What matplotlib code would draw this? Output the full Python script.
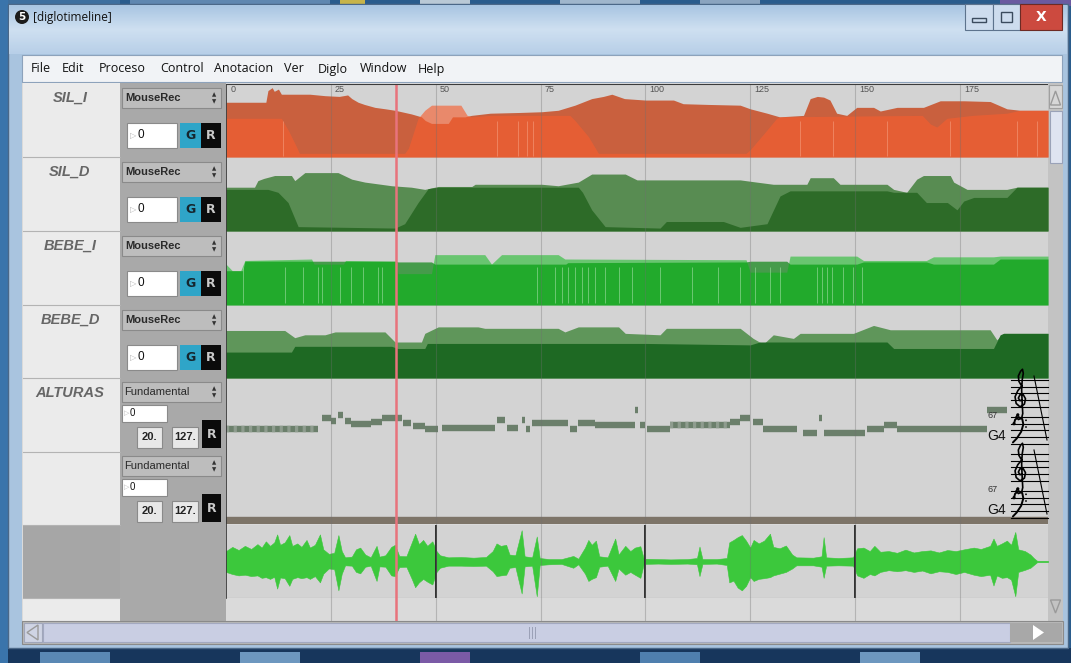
import numpy as np
import matplotlib
matplotlib.use("Agg")
import matplotlib.pyplot as plt
from matplotlib.patches import Rectangle, Circle, Polygon
from matplotlib.colors import LinearSegmentedColormap

W, H = 1071, 663

# ---- timeline data (x in ruler units, y as fraction of the track height) ----
TIMELINE_MAX = 196
RULER_TICKS = [0, 25, 50, 75, 100, 125, 150, 175]
CURSOR_POS = 40.5
AUDIO_MARKERS = [50, 100, 150]

MENU_ITEMS = ["File", "Edit", "Proceso", "Control", "Anotacion", "Ver", "Diglo", "Window", "Help"]
TRACK_NAMES = ["SIL_I", "SIL_D", "BEBE_I", "BEBE_D", "ALTURAS"]

SIL_I_BACK = [(0, .75), (9.5, .75), (10, .91), (11, .95), (11.5, .9), (12.5, .93), (13.2, .86),
              (20, .86), (23.6, .84), (27, .83), (29, .85), (30, .8), (31.5, .75), (33, .72),
              (35.5, .68), (38, .66), (40.3, .64), (44.2, .59), (46.6, .55), (47.5, .5), (49, .46),
              (53, .46), (54, .55), (57, .55), (58.5, .57), (63, .6), (70, .61), (75.3, .62),
              (79.2, .64), (83.2, .71), (87.2, .8), (90, .83), (92, .86), (95, .8), (100, .78),
              (106.7, .78), (109, .73), (115, .72), (122.6, .71), (125, .66), (129, .6), (132, .55),
              (137.7, .57), (139.3, .8), (141, .83), (142.5, .82), (144, .78), (145.6, .6), (148, .57),
              (150.4, .68), (154.4, .68), (156, .63), (160, .68), (166.3, .68), (170.3, .77),
              (176, .77), (182.2, .76), (186.2, .66), (189.4, .64), (196, .64)]
SIL_I_FRONT = [(0, .53), (13.2, .53), (15, .35), (16.8, .14), (17.5, .05), (42.6, .05), (43.5, .12),
               (45.8, .53), (47.4, .64), (49, .71), (56, .71), (57.5, .57), (58.5, .55), (63, .57),
               (82, .57), (83.2, .5), (86.4, .28), (88.8, .05), (124, .05), (125, .1), (129, .37),
               (131.3, .53), (132, .55), (166, .57), (168, .45), (169.5, .41), (171.9, .53),
               (175, .55), (178, .57), (186.2, .6), (189.4, .64), (196, .64)]
SIL_I_STREAKS = [13.6, 64.5, 69.7, 71.7, 73.3, 136.9, 144.8, 157.6, 172.7, 188.6, 193.4]

SIL_D_BACK = [(0, .6), (6.8, .6), (7.6, .69), (9, .72), (11.6, .76), (15.6, .76), (16.4, .69),
              (18.8, .8), (26.7, .8), (30, .71), (33.1, .67), (39.5, .62), (44.2, .6), (47.4, .57),
              (50.6, .61), (58.6, .61), (59.4, .64), (75.3, .64), (79.2, .62), (84, .67), (87.2, .78),
              (95.2, .78), (98, .7), (122.6, .7), (126.5, .67), (130.5, .64), (138.5, .64),
              (139.3, .73), (144.8, .73), (146.4, .64), (157.6, .64), (159.2, .57), (162.3, .53),
              (164.7, .71), (166.3, .76), (172.7, .76), (173.5, .67), (176.7, .57), (186.2, .57),
              (188.6, .6), (196, .6)]
SIL_D_FRONT = [(0, .57), (10, .57), (12.4, .53), (14.8, .39), (17.2, .06), (40.3, .04), (42.6, .1),
               (45.8, .39), (48.2, .58), (50.6, .6), (84, .6), (85, .53), (87.2, .29), (90.4, .06),
               (103.5, .04), (105, .13), (118.6, .13), (122.6, .05), (129, .1), (132.1, .48),
               (134.5, .55), (157.6, .55), (159.2, .53), (164.7, .53), (167, .39), (172, .39),
               (174.3, .29), (175.9, .41), (178.3, .46), (186.2, .46), (188.6, .6), (196, .6)]

BEBE_I_BACK = [(0, .47), (4, .47), (4.5, .6), (40.5, .6), (41, .59), (49, .59), (49.8, .56),
               (81, .56), (81.5, .58), (124, .59), (125, .6), (133.7, .6), (134.5, .56),
               (150.4, .56), (152, .59), (167, .59), (168.7, .56), (183, .56), (184.6, .63), (196, .63)]
BEBE_I_FRONT = [(0, .56), (1.5, .47), (3.5, .47), (4.5, .61), (20.4, .63), (21, .56), (28, .56),
                (28.5, .61), (40.5, .6), (41, .43), (49, .43), (49.8, .69), (61.7, .69), (63.3, .56),
                (65.7, .69), (79.2, .69), (80.8, .63), (124, .62), (125, .45), (133.7, .45),
                (134.5, .67), (150.4, .67), (152, .61), (167, .61), (168.7, .66), (183, .66),
                (184.6, .67), (196, .67)]
BEBE_I_STREAKS = [4.1, 14, 18.4, 22, 22.8, 27.1, 29.9, 32.7, 36.3, 37.1, 74.1, 78.5, 80, 81.6,
                  83.2, 84.8, 86.4, 88, 90.4, 93.6, 96.8, 103.5, 111, 117.4, 122.6, 126.1, 129.7,
                  132.1, 140.9, 142.1, 143.3, 144.5, 147.2, 149.6, 151.6]

BEBE_D_BACK = [(0, .66), (14, .66), (16.4, .56), (18.8, .6), (23.6, .6), (26, .64), (37.9, .64),
               (40.3, .5), (46.6, .5), (47.4, .62), (50.6, .71), (60.1, .71), (61.7, .69), (79.2, .69),
               (80.8, .64), (84, .71), (93.6, .71), (95.2, .62), (103.5, .6), (105, .69), (122.6, .69),
               (125.7, .55), (128.1, .47), (130.5, .6), (135.3, .55), (136.9, .62), (149.6, .62),
               (154.4, .73), (158.4, .67), (182.2, .67), (183.8, .53), (185.4, .62), (196, .62)]
BEBE_D_FRONT = [(0, .36), (15.6, .36), (16.4, .44), (39.5, .44), (41, .41), (47.4, .41), (48, .48),
                (100, .48), (125, .46), (127.3, .5), (157.6, .5), (159.2, .41), (183, .41),
                (184.6, .6), (185.4, .62), (196, .62)]

# pitch trace: (start, end, level)
PITCH = [(0, 22, .315), (22.8, 25.1, .47), (25.1, 26.3, .42), (26.7, 28, .51), (28.3, 29.9, .42),
         (29.9, 34.5, .38), (34.5, 37.1, .41), (37.1, 41.9, .47), (42.2, 44.2, .4), (44.6, 47.4, .36),
         (47.4, 50.6, .32), (51.4, 64.1, .33), (64.5, 66.5, .44), (66.9, 69.7, .33), (70.5, 71.3, .44),
         (71.5, 72.5, .32), (72.9, 81.6, .4), (82, 83.6, .32), (84, 88, .4), (88, 97.5, .37),
         (97.5, 98.3, .57), (98.7, 99.9, .37), (100.3, 105.9, .32), (105.9, 120.2, .37),
         (120.2, 122.6, .41), (122.6, 125, .47), (125.7, 128.1, .41), (128.1, 136.1, .32),
         (137.7, 140.9, .26), (141.3, 142, .47), (142.5, 152.4, .26), (152.8, 156.8, .32),
         (156.8, 160, .37), (160, 181.4, .32), (181.4, 186.2, .57)]
PITCH_NOISY = [(0, 22, .315), (105.9, 120.2, .37)]

# audio envelope
AUDIO_POS = [0, 1.5, 3, 4.5, 6, 7.5, 8.5, 9.5, 10.5, 11.5, 12.2, 12.9, 14, 15.1, 15.8, 17, 18, 19.2,
             20, 21.2, 22.4, 23.2, 24.5, 25.8, 26.8, 27.6, 28.4, 30, 31, 32, 33.2, 34.5, 35.9, 36.6,
             38, 39.4, 40.3, 41.3, 43, 44.3, 45.1, 46, 47, 48, 49.2, 50.2, 51, 53, 56, 59, 62, 63.6,
             64.5, 65.5, 66.8, 67.6, 69, 70.5, 71.2, 73, 74.1, 74.8, 77, 80, 82.8, 84, 85.6, 86.4,
             87.2, 88.2, 89, 91, 92.8, 93.6, 95.2, 96.4, 97.5, 98.8, 99.6, 103, 106, 110, 112.3,
             112.9, 113.6, 117, 119.4, 120, 121, 122, 123, 124, 125, 125.8, 127, 128.3, 129.7, 130.5,
             132, 133.5, 135, 136, 140, 142, 142.5, 143.1, 146, 149.5, 150.5, 152, 153.5, 154.6, 156,
             158, 160, 162, 164, 166, 168, 170, 172, 174, 176, 178.3, 180, 182.2, 183, 183.8, 185,
             186.2, 187.2, 188.2, 188.9, 190.5, 191.8, 192.6, 193.4, 196]
AUDIO_TOP = [.30, .42, .33, .45, .36, .50, .40, .58, .45, .55, .78, .48, .55, .76, .45, .52, .42, .62,
             .40, .48, .78, .35, .22, .25, .76, .30, .12, .14, .35, .40, .20, .12, .45, .14,
             .18, .42, .48, .16, .15, .55, .80, .50, .62, .45, .58, .30, .18, .12, .13, .11, .13, .30,
             .52, .45, .48, .20, .18, .90, .15, .12, .72, .10, .07, .07, .16, .08, .40, .62,
             .48, .60, .15, .12, .66, .20, .45, .30, .40, .44, .08, .07, .06, .07, .10,
             .43, .07, .07, .10, .55, .62, .70, .76, .60, .40, .62, .52, .60, .80, .42,
             .38, .46, .20, .12, .11, .15, .70, .12, .10, .12, .38, .40, .30, .45, .28,
             .30, .25, .34, .26, .30, .32, .26, .33, .30, .35, .40, .36, .45, .66, .45, .52,
             .60, .48, .85, .35, .30, .20, .10, .02, .02]
AUDIO_BOT = [.30, .36, .40, .38, .42, .40, .47, .45, .50, .44, .78, .46, .48, .70, .50, .45, .48, .45,
             .50, .42, .60, .35, .20, .22, .83, .35, .11, .12, .30, .34, .15, .12, .56, .14,
             .15, .40, .42, .16, .15, .50, .74, .60, .50, .58, .66, .30, .18, .12, .12, .13, .12, .28,
             .42, .40, .38, .18, .16, .92, .14, .12, 1.0, .10, .08, .07, .18, .08, .35, .56,
             .50, .45, .15, .12, .56, .20, .38, .30, .38, .47, .07, .06, .07, .06, .08,
             .42, .07, .06, .10, .60, .55, .75, .83, .70, .45, .56, .50, .48, .45, .40,
             .35, .30, .20, .11, .11, .15, .47, .12, .11, .12, .40, .47, .36, .40, .30,
             .25, .28, .25, .30, .26, .34, .28, .30, .36, .30, .38, .42, .38, .69, .40, .47,
             .45, .52, 1.0, .30, .24, .18, .10, .02, .02]

# ---- colours ----
TRACK_BG = "#d3d3d3"
ORANGE_BACK, ORANGE_FRONT = "#c9603e", "#f65e2f"
GREEN_D_BACK, GREEN_D_FRONT = "#588c52", "#2d6b28"
GREEN_I_BACK, GREEN_I_FRONT = "#469b4b", "#00b90f"
GREEN_BD_BACK, GREEN_BD_FRONT = "#5f965a", "#1e6923"
PITCH_COLOR = "#6b7f6b"
WAVE_COLOR = "#3cc83c"
UI = ["Liberation Sans Narrow", "Liberation Sans", "DejaVu Sans"]
MENU_FONT = ["Open Sans", "DejaVu Sans"]

fig = plt.figure(figsize=(W / 100, H / 100), dpi=100)
fig.patch.set_facecolor("#2a5c8c")

bg = fig.add_axes([0, 0, 1, 1])
bg.axis("off")


def box(ax, x0, y0, x1, y1, fc, ec="none", lw=0.8, z=2):
    ax.add_patch(Rectangle((x0, y0), x1 - x0, y1 - y0, fc=fc, ec=ec, lw=lw, zorder=z))


def px_axes(x0, y0, x1, y1):
    return fig.add_axes([x0 / W, 1 - y1 / H, (x1 - x0) / W, (y1 - y0) / H])


# desktop blur strips
for x0, x1, c in [(0, 120, "#3d6f9f"), (130, 330, "#5f87b0"), (340, 365, "#c7b44a"),
                  (420, 470, "#b9c9d6"), (560, 640, "#9fb6cc"), (700, 760, "#8aa4bf"),
                  (1000, 1071, "#6b5aa0")]:
    box(bg, x0, 0, x1, 6, c, z=1)
box(bg, 0, 648, W, H, "#17365c", z=1)
for x0, x1, c in [(40, 110, "#5a88b4"), (240, 300, "#6d97bf"), (420, 470, "#7a5aa6"),
                  (640, 700, "#4f7fae"), (860, 920, "#6d97bf")]:
    box(bg, x0, 652, x1, H, c, z=1)
box(bg, 0, 0, 8, H, "#3a74ab", z=1)

# window frame + glass title bar
box(bg, 8, 4, 1068, 648, "#a9c4df", ec="#4b6888", lw=1, z=2)
glass = LinearSegmentedColormap.from_list("glass", ["#a8c5e2", "#cfe0f1", "#b7cfe8"])
bg.imshow(np.linspace(0, 1, 64).reshape(-1, 1), cmap=glass, aspect="auto",
          extent=[9, 1067, 54, 5], zorder=3)
bg.add_patch(Circle((22, 17), 7, fc="#1c1c1c", zorder=4))
bg.text(22, 17.5, "5", color="white", fontsize=7.5, fontweight="bold", ha="center", va="center", zorder=5)
bg.text(33, 17, "[diglotimeline]", color="#111111", fontsize=8.5, va="center",
        family=MENU_FONT, zorder=5)

# caption buttons
box(bg, 965, 4, 993, 30, "#cddcee", ec="#5d738d", z=4)
box(bg, 993, 4, 1020, 30, "#cddcee", ec="#5d738d", z=4)
box(bg, 1020, 4, 1062, 30, "#cc4a3f", ec="#6d2a24", z=4)
box(bg, 972, 18, 986, 22, "none", ec="#3b4b5e", lw=1, z=5)
box(bg, 1001, 12, 1012, 22, "none", ec="#3b4b5e", lw=1, z=5)
bg.text(1041, 17, "X", color="white", fontsize=10, fontweight="bold", ha="center", va="center", zorder=5)

# menu bar
box(bg, 22, 55, 1062, 82, "#f1f3f6", ec="#8da2bb", z=4)
for label, x in zip(MENU_ITEMS, [31, 62, 99, 160, 214, 284, 318, 360, 418]):
    bg.text(x, 69, label, fontsize=9, va="center", color="#111111", family=MENU_FONT, zorder=5)

# main content background
box(bg, 22, 83, 1063, 621, "#dadada", z=3)

# label column
box(bg, 23, 83, 120, 621, "#ebebeb", z=4)
box(bg, 23, 525, 120, 598, "#a6a6a6", z=4)
for y in [157, 231, 305, 378, 452, 525, 598]:
    bg.plot([23, 120], [y, y], color="#b3b3b3", lw=0.8, zorder=5)
for name, y in zip(TRACK_NAMES, [98, 172, 246, 320, 393]):
    bg.text(70, y, name, fontsize=10.5, style="italic", fontweight="bold", color="#666666",
            ha="center", va="center", family=UI, zorder=6)

# control column
box(bg, 120, 83, 226, 621, "#a9a9a9", z=4)


def mouse_widget(t):
    box(bg, 122, t + 5, 221, t + 25, "#bdbdbd", ec="#8a8a8a", z=5)
    bg.text(125, t + 15, "MouseRec", fontsize=8, fontweight="bold", color="#2a2a2a",
            va="center", family=UI, zorder=6)
    bg.text(214, t + 12, "\u25b2", fontsize=4, color="#333333", ha="center", va="center", zorder=6)
    bg.text(214, t + 18.5, "\u25bc", fontsize=4, color="#333333", ha="center", va="center", zorder=6)
    box(bg, 127, t + 40, 177, t + 65, "white", ec="#8a8a8a", z=5)
    bg.text(130, t + 52.5, "\u25b7", fontsize=6, color="#b5b5b5", va="center", zorder=6)
    bg.text(137, t + 52.5, "0", fontsize=8.5, color="#111111", va="center", family=UI, zorder=6)
    box(bg, 180, t + 40, 201, t + 65, "#2fa5c8", z=5)
    bg.text(190.5, t + 52.5, "G", fontsize=9, fontweight="bold", color="#16262e",
            ha="center", va="center", zorder=6)
    box(bg, 201, t + 40, 221, t + 65, "#0b0b0b", z=5)
    bg.text(211, t + 52.5, "R", fontsize=9, fontweight="bold", color="#c9c9c9",
            ha="center", va="center", zorder=6)


def fund_widget(t):
    box(bg, 122, t + 4, 221, t + 24, "#bdbdbd", ec="#8a8a8a", z=5)
    bg.text(124, t + 14, "Fundamental", fontsize=8, color="#2a2a2a", va="center", family=UI, zorder=6)
    bg.text(214, t + 11, "\u25b2", fontsize=4, color="#333333", ha="center", va="center", zorder=6)
    bg.text(214, t + 17.5, "\u25bc", fontsize=4, color="#333333", ha="center", va="center", zorder=6)
    box(bg, 122, t + 27, 167, t + 44, "white", ec="#8a8a8a", z=5)
    bg.text(124, t + 35.5, "\u25b7", fontsize=5, color="#b5b5b5", va="center", zorder=6)
    bg.text(130, t + 35.5, "0", fontsize=7, color="#111111", va="center", family=UI, zorder=6)
    box(bg, 137, t + 49, 162, t + 70, "#e8e8e8", ec="#8a8a8a", z=5)
    bg.text(149.5, t + 59.5, "20.", fontsize=8, fontweight="bold", color="#222222",
            ha="center", va="center", family=UI, zorder=6)
    box(bg, 172, t + 49, 198, t + 70, "#e8e8e8", ec="#8a8a8a", z=5)
    bg.text(185, t + 59.5, "127.", fontsize=8, fontweight="bold", color="#222222",
            ha="center", va="center", family=UI, zorder=6)
    box(bg, 202, t + 42, 221, t + 70, "#0b0b0b", z=5)
    bg.text(211.5, t + 56, "R", fontsize=9, fontweight="bold", color="#c9c9c9",
            ha="center", va="center", zorder=6)


for t in [83, 157, 231, 305]:
    mouse_widget(t)
for t in [378, 452]:
    fund_widget(t)

# scrollbars
box(bg, 1048, 83, 1063, 621, "#c3c3c3", z=4)
box(bg, 1049, 85, 1062, 108, "#d7d7d7", ec="#a0a0a0", z=5)
bg.add_patch(Polygon([[1050.5, 105], [1060.5, 105], [1055.5, 91]], fc="none", ec="#9a9a9a", lw=1, zorder=6))
box(bg, 1050, 111, 1062, 163, "#dfe4f1", ec="#9aa2b8", z=5)
bg.add_patch(Polygon([[1050.5, 600], [1060.5, 600], [1055.5, 613]], fc="none", ec="#9a9a9a", lw=1, zorder=6))
box(bg, 22, 621, 1063, 644, "#b9b9b9", ec="#8a8a8a", z=4)
box(bg, 24, 623, 42, 642, "#cfd4e4", ec="#a0a6ba", z=5)
bg.add_patch(Polygon([[38, 625], [38, 640], [27, 632.5]], fc="none", ec="#9a9a9a", lw=1, zorder=6))
box(bg, 43, 623, 1010, 642, "#c9cee3", ec="#a3a9c0", z=5)
for dx in [-3, 0, 3]:
    bg.plot([532 + dx, 532 + dx], [627, 638], color="#9aa0b6", lw=0.7, zorder=6)
box(bg, 1010, 623, 1062, 642, "#a8a8a8", z=5)
bg.add_patch(Polygon([[1033, 625], [1033, 640], [1044, 632.5]], fc="white", ec="none", zorder=6))

bg.set_xlim(0, W)
bg.set_ylim(H, 0)

# ---- tracks ----
ROWS = [(84, 157), (158, 231), (232, 305), (306, 378), (379, 452), (452, 524), (525, 598)]
axes = []
for y0, y1 in ROWS:
    ax = px_axes(226, y0, 1048, y1)
    ax.set_facecolor(TRACK_BG)
    ax.set_xlim(0, TIMELINE_MAX)
    ax.set_ylim(0, 1)
    ax.set_xticks([])
    ax.set_yticks([])
    for s in ax.spines.values():
        s.set_visible(False)
    axes.append(ax)


def two_layer(ax, back, front, c_back, c_front, a_front):
    bx, by = zip(*back)
    fx, fy = zip(*front)
    ax.fill_between(bx, 0, by, color=c_back, lw=0, zorder=2)
    ax.fill_between(fx, 0, fy, color=c_front, alpha=a_front, lw=0, zorder=3)


two_layer(axes[0], SIL_I_BACK, SIL_I_FRONT, ORANGE_BACK, ORANGE_FRONT, 0.63)
axes[0].vlines(SIL_I_STREAKS, 0.02, 0.5, color="#f7a789", lw=0.6, alpha=0.6, zorder=4)
for t in RULER_TICKS:
    axes[0].text(t + 1.0, 0.985, str(t), fontsize=6.5, color="#555555", va="top",
                 family=UI, zorder=6)
two_layer(axes[1], SIL_D_BACK, SIL_D_FRONT, GREEN_D_BACK, GREEN_D_FRONT, 1.0)
two_layer(axes[2], BEBE_I_BACK, BEBE_I_FRONT, GREEN_I_BACK, GREEN_I_FRONT, 0.5)
axes[2].vlines(BEBE_I_STREAKS, 0.03, 0.52, color="#8fd692", lw=0.6, alpha=0.8, zorder=4)
two_layer(axes[3], BEBE_D_BACK, BEBE_D_FRONT, GREEN_BD_BACK, GREEN_BD_FRONT, 1.0)

# pitch trace
p0, p1, pv = zip(*PITCH)
axes[4].hlines(pv, p0, p1, color=PITCH_COLOR, lw=4.6, zorder=3)
n0, n1, nv = zip(*PITCH_NOISY)
axes[4].hlines(nv, n0, n1, color="#8e9c8e", lw=4.6, linestyles=(0, (0.5, 0.7)), zorder=4)

# second fundamental row: bar at the bottom
axes[5].axhspan(0, 0.1, color="#7d7468", zorder=3)

# audio waveform
aud = axes[6]
aud.set_ylim(-1.05, 1.05)
aud.fill_between(AUDIO_POS, [-v for v in AUDIO_BOT], AUDIO_TOP, color=WAVE_COLOR, lw=0.4,
                 ec=WAVE_COLOR, zorder=3)
aud.vlines(AUDIO_MARKERS, -1.05, 1.05, color="#2e2e2e", lw=1.4, zorder=4)
aud.axhline(-1.04, color="#9a9a9a", lw=0.8, zorder=4)

# timeline overlay: grid and cursor
ov = px_axes(226, 84, 1048, 621)
ov.patch.set_alpha(0)
ov.set_xlim(0, TIMELINE_MAX)
ov.set_ylim(0, 1)
ov.axis("off")
ov.vlines(RULER_TICKS[1:], 0, 1, color="#6f6f6f", lw=0.8, alpha=0.35)
ov.axvline(CURSOR_POS, color="#e8737c", lw=1.8)
ov.plot([0, 0], [0.043, 1], color="#333333", lw=1.2)
ov.plot([0, 1], [1, 1], color="#3a3a3a", lw=1.5, transform=ov.transAxes)

# notation on the right edge of the pitch rows
top = fig.add_axes([0, 0, 1, 1])
top.patch.set_alpha(0)
top.axis("off")

# no installed font has the clef glyphs, so they are sketched as strokes
# (x in staff spaces from the clef centre, y in staff spaces above the bottom line)
TREBLE_STROKE = [(-0.4, -1.2), (-0.7, -1.5), (-0.3, -1.9), (0.3, -1.7), (0.5, -1.0), (0.4, 0.5),
                 (0.3, 2.5), (0.4, 4.0), (0.6, 5.0), (0.45, 5.6), (0.1, 5.3), (-0.3, 4.6),
                 (-0.2, 3.8), (0.3, 3.1), (-0.4, 2.4), (-0.9, 1.5), (-0.7, 0.5), (0.0, 0.0),
                 (0.8, 0.4), (1.0, 1.2), (0.6, 1.8), (0.0, 1.8), (-0.3, 1.3), (0.0, 0.9), (0.3, 1.0)]
BASS_STROKE = [(0.0, 3.0), (0.2, 3.6), (0.8, 4.0), (1.5, 3.7), (1.7, 2.9), (1.3, 1.8),
               (0.5, 0.8), (-0.2, 0.2)]
SP = 6.7


def draw_stroke(points, cx, y_bottom, lw):
    xs = [cx + px * 5.5 for px, _ in points]
    ys = [y_bottom - py * SP for _, py in points]
    top.plot(xs, ys, color="black", lw=lw, solid_capstyle="round", solid_joinstyle="round")
    top.add_patch(Circle((xs[0], ys[0]), 1.6, fc="black", ec="none"))


for base in [378, 452]:
    treble_lines = [base + 2 + i * SP for i in range(5)]
    bass_lines = [base + 39 + i * SP for i in range(5)]
    for y in treble_lines + bass_lines:
        top.plot([1011, 1048], [y, y], color="black", lw=0.8)
    top.plot([1034, 1047], [base - 2, base + 62], color="black", lw=0.8)
    draw_stroke(TREBLE_STROKE, 1020, treble_lines[-1], 1.2)
    draw_stroke(BASS_STROKE, 1014, bass_lines[-1], 1.4)
    top.add_patch(Circle((1026, bass_lines[0] + 3.3), 0.9, fc="black", ec="none"))
    top.add_patch(Circle((1026, bass_lines[1] + 3.3), 0.9, fc="black", ec="none"))
    top.text(988, base + 38, "67", fontsize=6.5, color="#333333", va="center", family=UI)
    top.text(987, base + 58, "G4", fontsize=10, color="#111111", va="center", family=UI)
top.set_xlim(0, W)
top.set_ylim(H, 0)

fig.savefig("out.png", dpi=100, facecolor=fig.get_facecolor())
